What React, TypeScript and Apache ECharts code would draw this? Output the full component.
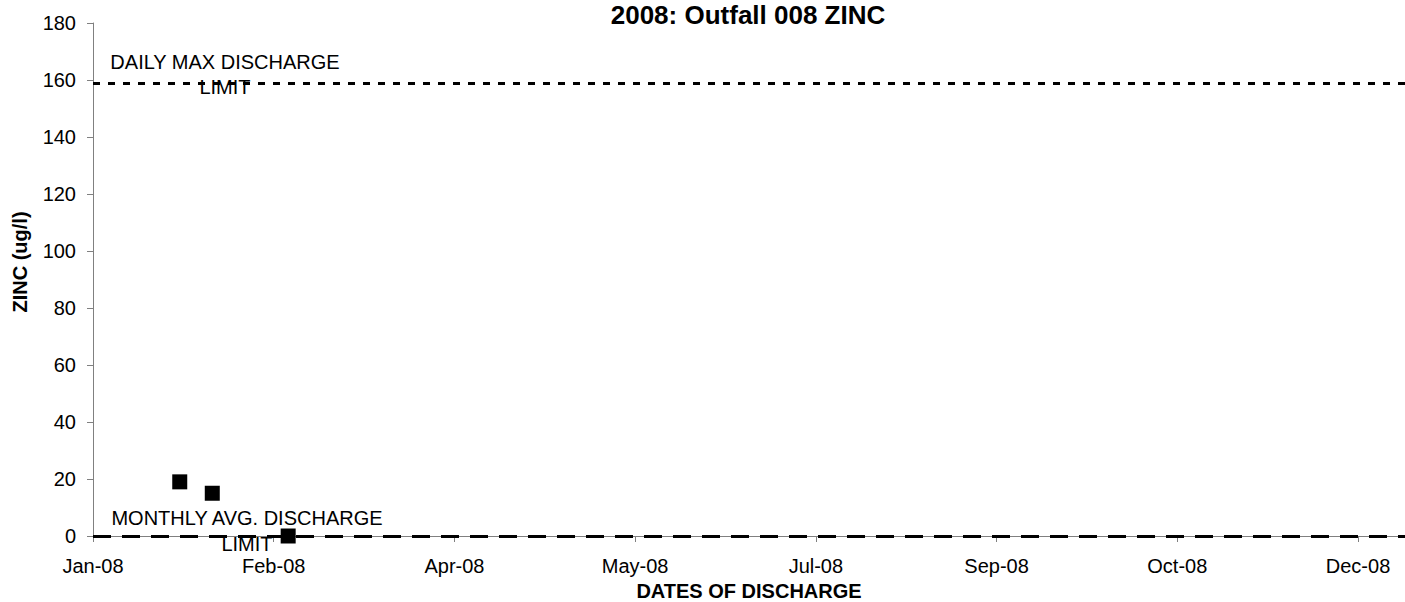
import React, { useEffect, useRef } from "react";
import * as echarts from "echarts";

const START = Date.UTC(2008, 0, 1);
const DAY = 86400000;
const MONTHS = ["Jan", "Feb", "Mar", "Apr", "May", "Jun", "Jul", "Aug", "Sep", "Oct", "Nov", "Dec"];

const sampleDates = ["2008-01-25", "2008-02-03", "2008-02-24"];
const zincValues = [19, 15, 0];
const dailyMaxLimit = 159;
const monthlyAvgLimit = 0;

const xMinDay = 0;
const xMaxDay = 363;
const xIntervalDays = 50;
const yMin = 0;
const yMax = 180;
const yInterval = 20;

const FONT = '"Liberation Sans", Arial, sans-serif';

function dayOffset(s: string): number {
  const [y, m, d] = s.split("-").map(Number);
  return (Date.UTC(y, m - 1, d) - START) / DAY;
}

function fmtDay(v: number): string {
  const dt = new Date(START + v * DAY);
  const yy = String(dt.getUTCFullYear() % 100).padStart(2, "0");
  return `${MONTHS[dt.getUTCMonth()]}-${yy}`;
}

function label(text: string, x: number, y: number, opts: any = {}) {
  return {
    type: "text",
    x,
    y,
    z: 20,
    rotation: opts.rotation || 0,
    style: {
      text,
      fill: "#000",
      fontFamily: FONT,
      fontSize: opts.size || 20,
      fontWeight: opts.bold ? "bold" : "normal",
      lineHeight: 18,
      align: "center",
      textAlign: "center",
      verticalAlign: "middle",
      textVerticalAlign: "middle",
    },
  };
}

export default function App() {
  const ref = useRef<HTMLDivElement>(null);
  useEffect(() => {
    document.body.style.margin = "0";
    if (!ref.current) return;
    const chart = echarts.init(ref.current, undefined, { renderer: "svg" });
    const points = sampleDates.map((d, i) => [dayOffset(d), zincValues[i]]);
    chart.setOption({
      animation: false,
      backgroundColor: "#ffffff",
      title: {
        text: "2008: Outfall 008 ZINC",
        left: 748,
        top: 2,
        padding: 0,
        textAlign: "center",
        textStyle: { fontFamily: FONT, fontSize: 26, fontWeight: "bold", color: "#000" },
      },
      grid: {
        left: 93,
        right: 0,
        top: 23,
        bottom: 66,
        containLabel: false,
        outerBoundsMode: "none",
      },
      xAxis: {
        type: "value",
        min: xMinDay,
        max: xMaxDay,
        interval: xIntervalDays,
        name: "DATES OF DISCHARGE",
        nameLocation: "middle",
        nameGap: 44,
        nameTextStyle: { fontFamily: FONT, fontSize: 20, fontWeight: "bold", color: "#000" },
        axisLine: { show: true, lineStyle: { color: "#808080", width: 1 } },
        axisTick: { show: true, length: 6, lineStyle: { color: "#808080" } },
        axisLabel: {
          fontFamily: FONT,
          fontSize: 20,
          color: "#000",
          margin: 20,
          showMaxLabel: false,
          formatter: (v: number) => fmtDay(v),
        },
        splitLine: { show: false },
      },
      yAxis: {
        type: "value",
        min: yMin,
        max: yMax,
        interval: yInterval,
        axisLine: { show: true, lineStyle: { color: "#808080", width: 1 } },
        axisTick: { show: true, length: 6, lineStyle: { color: "#808080" } },
        axisLabel: { fontFamily: FONT, fontSize: 20, color: "#000", margin: 17 },
        splitLine: { show: false },
      },
      series: [
        {
          type: "scatter",
          name: "ZINC",
          z: 10,
          symbol: "rect",
          symbolSize: 15,
          itemStyle: { color: "#000", opacity: 1 },
          data: points,
          markLine: {
            silent: true,
            symbol: "none",
            label: { show: false },
            data: [
              {
                yAxis: dailyMaxLimit,
                lineStyle: { color: "#000", width: 3, type: [7, 8], opacity: 1 },
              },
              {
                yAxis: monthlyAvgLimit,
                lineStyle: { color: "#000", width: 3, type: [18, 11], opacity: 1 },
              },
            ],
          },
        },
      ],
      graphic: [
        label("ZINC (ug/l)", 20, 262, { bold: true, rotation: Math.PI / 2 }),
        label("DAILY MAX DISCHARGE", 225, 62),
        label("LIMIT", 225, 87),
        label("MONTHLY AVG. DISCHARGE", 247, 518),
        label("LIMIT", 247, 544),
      ],
    });
    return () => chart.dispose();
  }, []);
  return <div ref={ref} style={{ width: 1405, height: 602 }} />;
}
